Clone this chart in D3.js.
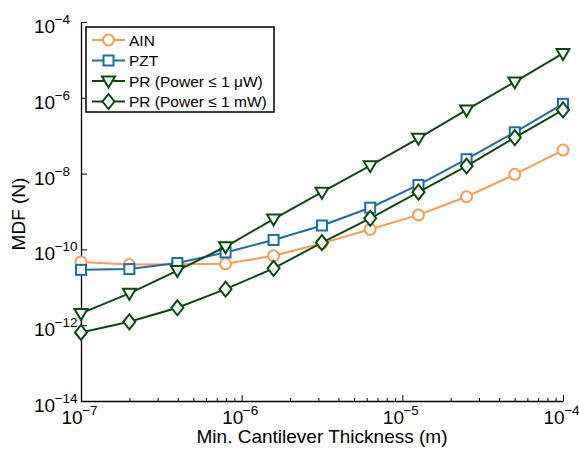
<!DOCTYPE html>
<html>
<head>
<meta charset="utf-8">
<script src="https://cdn.jsdelivr.net/npm/d3@7"></script>
<style>
  body { margin: 0; background: #fff; }
  svg { display: block; font-family: "Liberation Sans", Arial, sans-serif; }
</style>
</head>
<body>
<div id="chart"></div>
<script>
// Minimum detectable force vs. cantilever thickness

const thickness = [1e-7, 2e-7, 3.98e-7, 7.94e-7, 1.58e-6, 3.16e-6, 6.31e-6, 1.26e-5, 2.51e-5, 5.01e-5, 1e-4];

// log10 of the MDF values
const ainLog  = [-10.33, -10.40, -10.39, -10.38, -10.17, -9.84, -9.47, -9.09, -8.61, -8.02, -7.38];
const pztLog  = [-10.54, -10.52, -10.36, -10.08, -9.75, -9.37, -8.90, -8.30, -7.62, -6.91, -6.16];
const prUwLog = [-11.69, -11.16, -10.56, -9.93, -9.20, -8.49, -7.79, -7.07, -6.32, -5.58, -4.83];
const prMwLog = [-12.19, -11.91, -11.54, -11.05, -10.50, -9.82, -9.18, -8.49, -7.80, -7.05, -6.32];

const seriesNames = ['AIN', 'PZT', 'PR (Power \u2264 1 \u03bcW)', 'PR (Power \u2264 1 mW)'];
const xTickExps = [-7, -6, -5, -4];
const yTickExps = [-14, -12, -10, -8, -6, -4];

const orange = '#FF9A4F';
const blue = '#1B6DA7';
const green = '#0B4A0E';

const series = [
  { name: seriesNames[0], values: ainLog, color: orange, marker: 'circle' },
  { name: seriesNames[1], values: pztLog, color: blue, marker: 'square' },
  { name: seriesNames[2], values: prUwLog, color: green, marker: 'triangle' },
  { name: seriesNames[3], values: prMwLog, color: green, marker: 'diamond' }
];

const width = 579, height = 452;
const plot = { left: 81, right: 563, top: 22, bottom: 401 };

const svg = d3.select('#chart').append('svg')
  .attr('width', width)
  .attr('height', height);

const x = d3.scaleLog().domain([1e-7, 1e-4]).range([plot.left, plot.right]);
const y = d3.scaleLog().domain([1e-14, 1e-4]).range([plot.bottom, plot.top]);

// Axes (left and bottom only, ticks pointing inward)
const xMinor = [];
[-7, -6, -5].forEach(e => {
  for (let k = 2; k <= 9; k++) xMinor.push(k * Math.pow(10, e));
});

const xAxis = svg.append('g')
  .attr('transform', `translate(0,${plot.bottom})`)
  .call(d3.axisBottom(x).tickValues(xMinor).tickSizeInner(-3).tickSizeOuter(0).tickFormat(''));
xAxis.append('g')
  .call(d3.axisBottom(x).tickValues(xTickExps.map(e => Math.pow(10, e))).tickSizeInner(-6).tickSizeOuter(0).tickFormat(''));
xAxis.selectAll('.domain').attr('stroke', '#000').attr('stroke-width', 1.3);
xAxis.selectAll('.tick line').attr('stroke', '#000').attr('stroke-width', 1);
xAxis.selectAll('.domain').filter((d, i) => i > 0).remove();

const yAxis = svg.append('g')
  .attr('transform', `translate(${plot.left},0)`)
  .call(d3.axisLeft(y).tickValues(yTickExps.map(e => Math.pow(10, e))).tickSizeInner(-6).tickSizeOuter(0).tickFormat(''));
yAxis.select('.domain').attr('stroke', '#000').attr('stroke-width', 1.3);
yAxis.selectAll('.tick line').attr('stroke', '#000').attr('stroke-width', 1);

// Tick labels as 10 with superscript exponents
function powerLabel(g, e, px, py) {
  const t = g.append('text')
    .attr('x', px)
    .attr('y', py)
    .style('font-size', '19px')
    .attr('fill', '#000');
  t.append('tspan').text('10');
  t.append('tspan')
    .attr('dy', -9)
    .attr('dx', -0.5)
    .style('font-size', '13.5px')
    .text('\u2212' + Math.abs(e));
}

const labels = svg.append('g');
xTickExps.forEach(e => {
  powerLabel(labels, e, x(Math.pow(10, e)) - 19.5, plot.bottom + 23);
});
yTickExps.forEach(e => {
  powerLabel(labels, e, 34, y(Math.pow(10, e)) + 11);
});

// Axis titles
svg.append('text')
  .attr('x', (plot.left + plot.right) / 2)
  .attr('y', 443)
  .attr('text-anchor', 'middle')
  .style('font-size', '19px')
  .text('Min. Cantilever Thickness (m)');

svg.append('text')
  .attr('transform', `translate(25,214) rotate(-90)`)
  .attr('text-anchor', 'middle')
  .style('font-size', '19px')
  .text('MDF (N)');

// Marker shapes
function drawMarker(g, type, cx, cy, color) {
  if (type === 'circle') {
    g.append('circle').attr('cx', cx).attr('cy', cy).attr('r', 5.5)
      .attr('fill', '#fff').attr('stroke', color).attr('stroke-width', 2);
  } else if (type === 'square') {
    g.append('rect').attr('x', cx - 5).attr('y', cy - 5).attr('width', 10).attr('height', 10)
      .attr('fill', '#fff').attr('stroke', color).attr('stroke-width', 2);
  } else if (type === 'triangle') {
    g.append('path')
      .attr('d', `M${cx - 6.5},${cy - 4.5}L${cx + 6.5},${cy - 4.5}L${cx},${cy + 6.5}Z`)
      .attr('fill', '#fff').attr('stroke', color).attr('stroke-width', 2);
  } else {
    g.append('path')
      .attr('d', `M${cx},${cy - 7.5}L${cx + 6},${cy}L${cx},${cy + 7.5}L${cx - 6},${cy}Z`)
      .attr('fill', '#fff').attr('stroke', color).attr('stroke-width', 2);
  }
}

const line = d3.line()
  .x(d => x(d[0]))
  .y(d => y(Math.pow(10, d[1])));

series.forEach(s => {
  const pts = thickness.map((t, i) => [t, s.values[i]]);
  const g = svg.append('g');
  g.append('path')
    .datum(pts)
    .attr('d', line)
    .attr('fill', 'none')
    .attr('stroke', s.color)
    .attr('stroke-width', 2);
  pts.forEach(p => drawMarker(g, s.marker, x(p[0]), y(Math.pow(10, p[1])), s.color));
});

// Legend
const legend = svg.append('g').attr('transform', 'translate(86,27)');
legend.append('rect')
  .attr('width', 188)
  .attr('height', 85)
  .attr('fill', '#fff')
  .attr('stroke', '#000')
  .attr('stroke-width', 1.5);

series.forEach((s, i) => {
  const ly = 13 + i * 20.5;
  const item = legend.append('g');
  item.append('line')
    .attr('x1', 6).attr('x2', 39)
    .attr('y1', ly).attr('y2', ly)
    .attr('stroke', s.color).attr('stroke-width', 2);
  drawMarker(item, s.marker, 22.5, ly, s.color);
  item.append('text')
    .attr('x', 43)
    .attr('y', ly + 5.5)
    .style('font-size', '15.5px')
    .text(s.name);
});
</script>
</body>
</html>
